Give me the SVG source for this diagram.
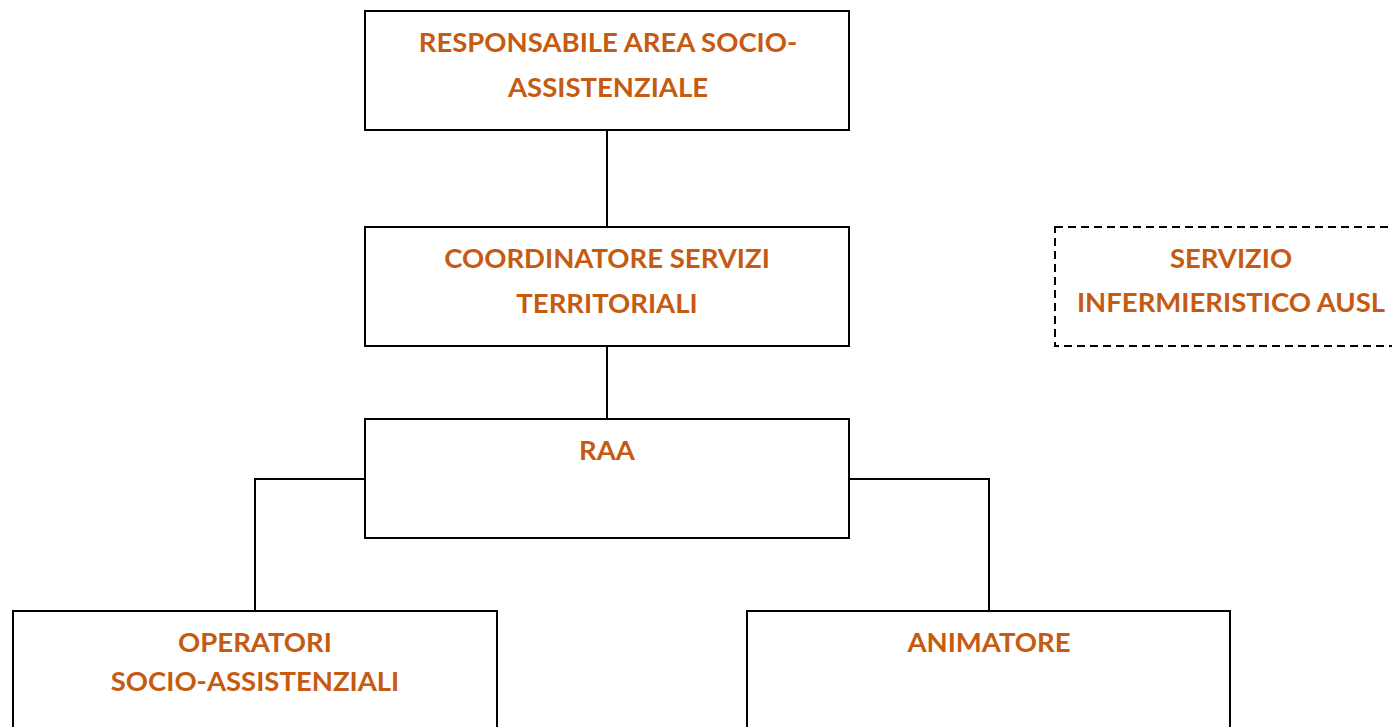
<svg xmlns="http://www.w3.org/2000/svg" width="1392" height="727" viewBox="0 0 1392 727">
<style>
.box{fill:#fff;stroke:#000;stroke-width:2}
.dash{fill:#fff;stroke:#000;stroke-width:2;stroke-dasharray:8 5}
.t{font-family:"Lato","Open Sans","Liberation Sans",sans-serif;font-weight:bold;font-size:27.5px;fill:#C55A11;text-anchor:middle}
.c{fill:none;stroke:#000;stroke-width:2}
</style>
<rect width="1392" height="727" fill="#fff"/>
<g id="connectors">
<line class="c" x1="607" y1="130" x2="607" y2="227"/>
<line class="c" x1="607" y1="346" x2="607" y2="419"/>
<polyline class="c" points="365,479 255,479 255,611"/>
<polyline class="c" points="849,479 989,479 989,611"/>
</g>
<g id="responsabile">
<rect class="box" x="365" y="11" width="484" height="119"/>
<text class="t" x="608" y="52">RESPONSABILE AREA SOCIO-</text>
<text class="t" x="608" y="97">ASSISTENZIALE</text>
</g>
<g id="coordinatore">
<rect class="box" x="365" y="227" width="484" height="119"/>
<text class="t" x="607" y="268">COORDINATORE SERVIZI</text>
<text class="t" x="607" y="313">TERRITORIALI</text>
</g>
<g id="servizio">
<rect class="dash" x="1055" y="227" width="352" height="119"/>
<text class="t" x="1231" y="268">SERVIZIO</text>
<text class="t" x="1231" y="312">INFERMIERISTICO AUSL</text>
</g>
<g id="raa">
<rect class="box" x="365" y="419" width="484" height="119"/>
<text class="t" x="607" y="460">RAA</text>
</g>
<g id="operatori">
<rect class="box" x="13" y="611" width="484" height="130"/>
<text class="t" x="255" y="652">OPERATORI</text>
<text class="t" x="255" y="691">SOCIO-ASSISTENZIALI</text>
</g>
<g id="animatore">
<rect class="box" x="747" y="611" width="483" height="130"/>
<text class="t" x="989" y="652">ANIMATORE</text>
</g>
</svg>
